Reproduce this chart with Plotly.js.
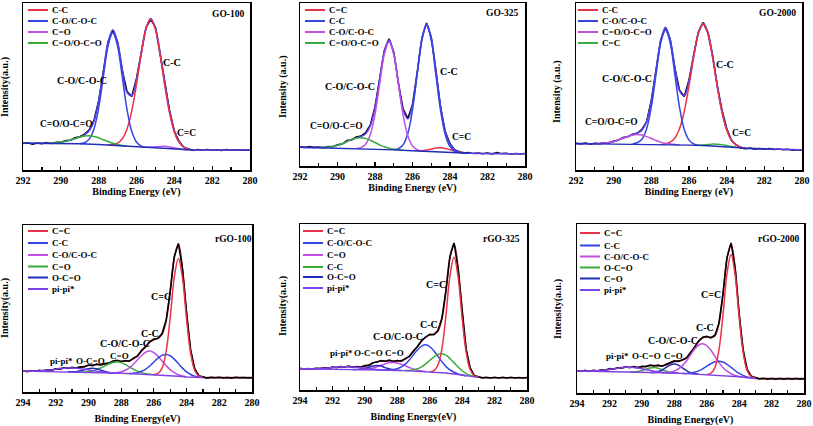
<!DOCTYPE html>
<html>
<head>
<meta charset="utf-8">
<script src="https://cdn.plot.ly/plotly-3.0.1.min.js"></script>
<style>
  html, body { margin: 0; padding: 0; background: #fff; }
  #chart { width: 813px; height: 426px; }
</style>
</head>
<body>
<div id="chart"></div>
<script>
// binding energy grids (eV)
const topE = [292, 291.75, 291.5, 291.25, 291, 290.75, 290.5, 290.25, 290, 289.75, 289.5, 289.25, 289, 288.75, 288.5, 288.25,
  288, 287.75, 287.5, 287.25, 287, 286.75, 286.5, 286.25, 286, 285.75, 285.5, 285.25, 285, 284.75, 284.5, 284.25,
  284, 283.75, 283.5, 283.25, 283, 282.75, 282.5, 282.25, 282, 281.75, 281.5, 281.25, 281, 280.75, 280.5, 280.25, 280];
const botE = [294, 293.75, 293.5, 293.25, 293, 292.75, 292.5, 292.25].concat(topE);

// GO-100
const go100Data = [.158, .163, .155, .162, .157, .164, .159, .166, .165, .176, .178, .193, .199, .214, .240, .297, .415, .590, .770, .835,
  .768, .598, .470, .440, .548, .700, .852, .900, .855, .695, .520, .355, .232, .173, .135, .126, .117, .122, .118, .123,
  .119, .121, .117, .122, .119, .121, .118, .120, .119];
const go100Fit = [.160, .160, .160, .160, .160, .160, .160, .163, .167, .172, .180, .188, .197, .210, .235, .292, .412, .591, .766, .840,
  .763, .600, .465, .445, .543, .702, .847, .907, .850, .700, .517, .352, .237, .170, .138, .125, .120, .120, .120, .120,
  .120, .120, .120, .120, .120, .120, .120, .120, .120];
const go100CC = [.150, .153, .161, .187, .246, .354, .513, .695, .845, .902, .841, .687, .502, .339, .228, .165, .136, .125, .120];
const go100CO = [.157, .163, .185, .245, .372, .561, .745, .823, .741, .554, .361, .231, .168, .143, .134];
const go100CdO = [.136, .136, .137, .139, .141, .142, .138, .133, .127, .123, .120];
const go100OCO = [.160, .160, .163, .167, .172, .180, .188, .197, .203, .205, .201, .193, .181, .171, .160, .153, .147, .142];
const go100BgE = [292, 290, 289, 288, 287, 286, 285, 284, 283.5, 283];
const go100Bg = [.160, .160, .157, .153, .146, .138, .130, .124, .121, .120];
const go100Names = ['C-C', 'C-O/C-O-C', 'C=O', 'C=O/O-C=O'];

// GO-325
const go325Data = [.118, .113, .119, .115, .117, .112, .120, .118, .131, .135, .156, .160, .178, .184, .205, .252, .363, .540, .710, .780,
  .700, .505, .350, .292, .378, .575, .785, .878, .790, .585, .360, .210, .138, .098, .089, .079, .082, .076, .080, .075,
  .079, .074, .083, .076, .078, .073, .077, .074, .076];
const go325Fit = [.115, .114, .114, .113, .114, .114, .115, .120, .127, .137, .150, .162, .172, .181, .198, .248, .359, .532, .703, .772,
  .690, .511, .345, .289, .374, .569, .777, .871, .786, .579, .363, .212, .134, .100, .086, .081, .078, .078, .077, .077,
  .076, .076, .076, .075, .075, .075, .075, .075, .075];
const go325CdC = [.093, .094, .098, .104, .110, .112, .108, .100, .091, .084, .080];
const go325CC = [.101, .107, .130, .199, .345, .562, .773, .863, .771, .557, .338, .190, .119, .092, .083];
const go325CO = [.108, .113, .134, .194, .318, .504, .686, .763, .684, .500, .311, .185, .123, .100, .091];
const go325OCO = [.114, .114, .115, .120, .127, .137, .150, .162, .171, .174, .169, .158, .144, .130, .118, .109, .103, .100, .096];
const go325BgE = [292, 290, 288, 287, 286, 285, 284, 283.5, 283];
const go325Bg = [.115, .110, .103, .099, .094, .089, .085, .081, .078];
const go325Names = ['C=C', 'C-C', 'C-O/C-O-C', 'C=O/O-C=O'];

// GO-2000
const go2000Data = [.160, .156, .161, .155, .160, .157, .163, .162, .174, .178, .195, .199, .214, .220, .243, .290, .418, .600, .780, .850,
  .785, .610, .478, .440, .540, .690, .826, .884, .822, .690, .505, .360, .250, .178, .150, .132, .127, .131, .125, .129,
  .124, .128, .123, .126, .121, .124, .119, .122, .119];
const go2000Fit = [.158, .158, .158, .157, .158, .159, .161, .164, .170, .180, .190, .201, .211, .221, .239, .293, .413, .596, .776, .854,
  .780, .613, .474, .445, .535, .686, .822, .880, .826, .685, .510, .355, .246, .182, .152, .136, .130, .129, .128, .128,
  .127, .126, .125, .125, .124, .123, .122, .121, .120];
const go2000CC = [.153, .156, .167, .192, .249, .352, .505, .678, .821, .876, .819, .674, .498, .344, .239, .178, .150, .136, .130];
const go2000CO = [.156, .163, .184, .247, .378, .572, .762, .842, .761, .570, .374, .242, .179, .156, .148];
const go2000OCO = [.158, .159, .161, .164, .170, .180, .190, .201, .210, .213, .209, .200, .189, .177, .167, .160, .156, .153, .151];
const go2000CdC = [.149, .150, .152, .155, .154, .152, .147, .141, .137];
const go2000BgE = [292, 290, 288, 287, 286, 285, 284, 283.5, 283, 281.5];
const go2000Bg = [.158, .156, .154, .152, .149, .145, .140, .135, .130, .125];
const go2000Names = ['C-C', 'C-O/C-O-C', 'C=O/O-C=O', 'C=C'];

// rGO-100
const rgo100Data = [.128, .122, .127, .124, .130, .126, .133, .130, .139, .137, .145, .141, .148, .143, .151, .150, .162, .158, .167, .162,
  .170, .172, .186, .190, .182, .188, .184, .203, .215, .250, .270, .302, .318, .320, .350, .430, .605, .810, .890, .735,
  .475, .252, .140, .096, .091, .083, .088, .085, .089, .084, .087, .083, .088, .085, .087, .084, .086];
const rgo100Fit = [.125, .125, .125, .126, .126, .128, .131, .133, .137, .140, .142, .144, .145, .145, .148, .153, .159, .162, .164, .164,
  .167, .174, .181, .185, .185, .184, .187, .199, .218, .245, .273, .298, .313, .323, .346, .426, .599, .807, .884, .738,
  .470, .248, .137, .099, .088, .086, .086, .086, .086, .086, .086, .086, .086, .086, .086, .086, .086];
const rgo100CdC = [.105, .111, .143, .243, .446, .688, .799, .683, .437, .231, .129, .095, .087];
const rgo100CC = [.111, .113, .116, .124, .137, .156, .180, .203, .219, .225, .217, .197, .170, .143, .121, .105, .095, .091, .087];
const rgo100CO = [.115, .117, .121, .130, .145, .167, .193, .219, .238, .245, .236, .215, .186, .158, .134, .116, .103, .096, .092];
const rgo100CdO = [.119, .120, .122, .126, .134, .144, .156, .168, .177, .181, .176, .165, .151, .137, .125, .116, .110, .107, .104];
const rgo100OCO = [.121, .121, .122, .127, .133, .140, .142, .139, .131, .123, .117, .114, .113];
const rgo100Pi = [.125, .125, .125, .126, .126, .128, .131, .133, .137, .140, .142, .144, .144, .142, .140, .136, .133, .128, .125, .121,
  .118, .116, .114, .113, .112];
const rgo100BgE = [294, 292, 290, 288, 287, 286, 285, 284.5, 284, 283.5, 283];
const rgo100Bg = [.125, .122, .118, .112, .108, .104, .099, .094, .090, .087, .086];
const rgo100Names = ['C=C', 'C-C', 'C-O/C-O-C', 'C=O', 'O-C=O', 'pi-pi*'];

// rGO-325
const rgo325Data = [.131, .126, .130, .125, .131, .128, .134, .130, .139, .134, .142, .138, .144, .137, .141, .137, .147, .148, .165, .168,
  .178, .172, .180, .172, .178, .174, .190, .203, .236, .262, .298, .318, .336, .333, .358, .432, .600, .805, .886, .730,
  .468, .246, .133, .087, .080, .073, .077, .072, .076, .073, .077, .072, .076, .073, .075, .072, .075];
const rgo325Fit = [.128, .128, .128, .128, .129, .130, .131, .133, .136, .137, .139, .140, .140, .139, .138, .139, .144, .150, .162, .170,
  .175, .175, .175, .175, .175, .177, .186, .205, .232, .264, .295, .320, .332, .336, .354, .428, .596, .802, .880, .734,
  .464, .243, .130, .089, .078, .075, .074, .074, .074, .074, .074, .074, .074, .074, .074, .074, .074];
const rgo325CdC = [.110, .115, .148, .247, .448, .689, .800, .682, .434, .227, .122, .086, .077];
const rgo325CO = [.120, .121, .123, .129, .139, .156, .182, .212, .243, .264, .272, .262, .237, .204, .171, .142, .121, .107, .097, .090, .085];
const rgo325CdO = [.123, .125, .127, .133, .140, .149, .157, .164, .166, .163, .155, .145, .135, .126, .119, .114, .111];
const rgo325CC = [.117, .118, .122, .128, .139, .157, .178, .198, .214, .218, .210, .190, .165, .139, .116, .099, .088, .081, .077];
const rgo325OCO = [.123, .124, .126, .131, .137, .145, .147, .144, .135, .128, .122, .119, .117];
const rgo325Pi = [.128, .128, .128, .128, .129, .130, .131, .133, .136, .137, .139, .140, .140, .139, .137, .134, .132, .128, .126, .123,
  .122, .120, .119, .118, .118];
const rgo325BgE = [294, 292, 290, 288, 287, 286, 285, 284.5, 284, 283.5, 283];
const rgo325Bg = [.128, .126, .122, .118, .114, .109, .102, .096, .088, .080, .076];
const rgo325Names = ['C=C', 'C-O/C-O-C', 'C=O', 'C-C', 'O-C=O', 'pi-pi*'];

// rGO-2000
const rgo2000Data = [.133, .128, .134, .128, .135, .131, .138, .134, .145, .141, .150, .147, .155, .150, .156, .150, .158, .155, .166, .160,
  .165, .158, .170, .178, .190, .187, .198, .206, .240, .270, .308, .330, .336, .326, .342, .412, .585, .800, .888, .742,
  .468, .255, .140, .100, .092, .083, .087, .081, .086, .082, .086, .081, .085, .082, .085, .081, .084];
const rgo2000Fit = [.130, .130, .130, .130, .131, .132, .134, .136, .140, .143, .147, .150, .152, .152, .152, .152, .154, .158, .162, .162,
  .160, .161, .166, .176, .186, .190, .196, .209, .236, .272, .305, .326, .332, .329, .338, .409, .582, .797, .882, .740,
  .471, .251, .137, .099, .088, .085, .085, .085, .085, .085, .085, .085, .085, .085, .085, .085, .085];
const rgo2000CdC = [.109, .116, .149, .252, .458, .706, .820, .701, .449, .239, .132, .097, .087];
const rgo2000CC = [.117, .116, .118, .123, .131, .143, .158, .173, .185, .188, .183, .170, .152, .133, .116, .104, .095, .090, .087];
const rgo2000CO = [.120, .121, .123, .130, .142, .162, .189, .224, .259, .284, .292, .281, .254, .218, .181, .151, .129, .114, .104, .098, .094];
const rgo2000OCO = [.124, .125, .127, .133, .141, .148, .151, .147, .138, .129, .122, .119, .117];
const rgo2000CdO = [.122, .122, .127, .137, .152, .166, .172, .165, .149, .132, .120, .114, .112];
const rgo2000Pi = [.130, .130, .130, .130, .131, .132, .134, .136, .140, .143, .147, .150, .152, .152, .151, .148, .144, .139, .134, .129,
  .126, .123, .121, .119, .119, .117];
const rgo2000BgE = [294, 292, 290, 288, 287, 286, 285, 284.5, 284, 283.5, 283];
const rgo2000Bg = [.130, .127, .123, .118, .113, .108, .105, .102, .096, .090, .086];
const rgo2000Names = ['C=C', 'C-C', 'C-O/C-O-C', 'O-C=O', 'C=O', 'pi-pi*'];

const W = 813, H = 426;
const FONT = 'Liberation Serif, Times New Roman, serif';
const RED = '#e8334a', BLUE = '#3446e2', MAG = '#c04fe2', GREEN = '#3aab3a', NAVY = '#1f2db8', PURPLE = '#8040e8';
const ENV = '#5a3ee8', RENV = '#9a1d32';

const px = x => x / W;
const py = y => 1 - y / H;
function span(grid, from, ys) {
  const i = grid.indexOf(from);
  return grid.slice(i, i + ys.length);
}

const panels = [
  { grid: topE, data: go100Data, fit: go100Fit, fitColor: ENV, fitOnTop: true,
    comps: [[287.5, go100CC, RED], [289, go100CO, BLUE], [285.75, go100CdO, MAG], [290.75, go100OCO, GREEN]],
    bgE: go100BgE, bg: go100Bg, bgColor: NAVY,
    names: go100Names, colors: [RED, BLUE, MAG, GREEN],
    frame: [23, 3, 250, 170], legX: 28, rows: [10, 21, 32, 43],
    tag: 'GO-100', tagPos: [228, 14], yTitle: 'Intensity(a.u.)', yTitlePos: [5, 87],
    xTitle: 'Binding Energy (eV)', range: [292, 280], standoff: 3,
    labels: [['C-O/C-O-C', 288.9, .536, 10], ['C-C', 284.1, .643, 10], ['C=O/O-C=O', 289.7, .274, 9.5], ['C=C', 283.35, .22, 9.5]] },
  { grid: topE, data: go325Data, fit: go325Fit, fitColor: ENV, fitOnTop: true,
    comps: [[285.75, go325CdC, RED], [287, go325CC, BLUE], [289, go325CO, MAG], [291, go325OCO, GREEN]],
    bgE: go325BgE, bg: go325Bg, bgColor: NAVY,
    names: go325Names, colors: [RED, BLUE, MAG, GREEN],
    frame: [300, 3, 525, 166], legX: 305, rows: [10, 21, 32, 43],
    tag: 'GO-325', tagPos: [502, 13], yTitle: 'Intensity (a.u.)', yTitlePos: [283, 87],
    xTitle: 'Binding Energy (eV)', range: [292, 280], standoff: 3,
    labels: [['C-O/C-O-C', 289.33, .49, 10], ['C-C', 284.05, .58, 10], ['C=O/O-C=O', 290.07, .247, 9.5], ['C=C', 283.39, .18, 9.5]] },
  { grid: topE, data: go2000Data, fit: go2000Fit, fitColor: ENV, fitOnTop: true,
    comps: [[287.5, go2000CC, RED], [289, go2000CO, BLUE], [291, go2000OCO, MAG], [285.5, go2000CdC, GREEN]],
    bgE: go2000BgE, bg: go2000Bg, bgColor: NAVY,
    names: go2000Names, colors: [RED, BLUE, MAG, GREEN],
    frame: [576, 3, 802, 170], legX: 578, rows: [10, 21, 32, 43],
    tag: 'GO-2000', tagPos: [777, 13], yTitle: 'Intensity (a.u.)', yTitlePos: [557, 92],
    xTitle: 'Binding Energy (eV)', range: [292, 280], standoff: 3,
    labels: [['C-O/C-O-C', 289.3, .55, 10], ['C-C', 284.1, .63, 10], ['C=O/O-C=O', 290.1, .287, 9.5], ['C=C', 283.21, .222, 9.5]] },
  { grid: botE, data: rgo100Data, fit: rgo100Fit, fitColor: RENV, fitOnTop: false,
    comps: [[290.5, rgo100CdO, GREEN], [291.25, rgo100OCO, NAVY], [294, rgo100Pi, PURPLE], [288.5, rgo100CO, MAG],
      [287.5, rgo100CC, BLUE], [286, rgo100CdC, RED]],
    bgE: rgo100BgE, bg: rgo100Bg, bgColor: PURPLE,
    names: rgo100Names, colors: [RED, BLUE, MAG, GREEN, NAVY, PURPLE],
    frame: [23, 225, 252, 392], legX: 28, rows: [231, 243, 255, 266.5, 277.5, 289],
    tag: 'rGO-100', tagPos: [233, 239], yTitle: 'Intensity(a.u.)', yTitlePos: [5, 308],
    xTitle: 'Binding Energy(eV)', range: [294, 280], standoff: 8,
    labels: [['C=C', 285.56, .57, 10], ['C-C', 286.26, .35, 10], ['C-O/C-O-C', 287.76, .29, 10], ['C=O', 288.11, .216, 9],
      ['pi-pi*', 291.62, .186, 9], ['O-C=O', 289.88, .186, 9]] },
  { grid: botE, data: rgo325Data, fit: rgo325Fit, fitColor: RENV, fitOnTop: false,
    comps: [[290.25, rgo325CdO, MAG], [290.75, rgo325OCO, NAVY], [294, rgo325Pi, PURPLE], [288.75, rgo325CO, BLUE],
      [287.5, rgo325CC, GREEN], [286, rgo325CdC, RED]],
    bgE: rgo325BgE, bg: rgo325Bg, bgColor: PURPLE,
    names: rgo325Names, colors: [RED, BLUE, MAG, GREEN, NAVY, PURPLE],
    frame: [300, 224, 527, 390], legX: 303, rows: [231, 243, 255, 267, 277, 288],
    tag: 'rGO-325', tagPos: [502, 239], yTitle: 'Intensity(a.u.)', yTitlePos: [283, 306],
    xTitle: 'Binding Energy(eV)', range: [294, 280], standoff: 8,
    labels: [['C=C', 285.6, .634, 10], ['C-C', 286.05, .392, 10], ['C-O/C-O-C', 287.97, .322, 10], ['C=O', 288.17, .225, 9],
      ['pi-pi*', 291.45, .221, 9], ['O-C=O', 289.76, .221, 9]] },
  { grid: botE, data: rgo2000Data, fit: rgo2000Fit, fitColor: RENV, fitOnTop: false,
    comps: [[290.75, rgo2000OCO, GREEN], [289.5, rgo2000CdO, NAVY], [294, rgo2000Pi, PURPLE], [288.75, rgo2000CO, MAG],
      [287.5, rgo2000CC, BLUE], [286, rgo2000CdC, RED]],
    bgE: rgo2000BgE, bg: rgo2000Bg, bgColor: PURPLE,
    names: rgo2000Names, colors: [RED, BLUE, MAG, GREEN, NAVY, PURPLE],
    frame: [577, 224, 804, 393], legX: 580, rows: [233, 245.5, 256.5, 267.5, 278.5, 290],
    tag: 'rGO-2000', tagPos: [778, 239], yTitle: 'Intensity(a.u.)', yTitlePos: [558, 309],
    xTitle: 'Binding Energy(eV)', range: [294, 280], standoff: 8,
    labels: [['C=C', 285.71, .582, 10], ['C-C', 286.08, .385, 10], ['C-O/C-O-C', 288.08, .31, 10], ['C=O', 288.02, .217, 9],
      ['O-C=O', 289.72, .217, 9], ['pi-pi*', 291.5, .217, 9]] }
];

const bold = (size) => ({ family: FONT, size: size, color: '#000', weight: 'bold' });
const traces = [];
const annotations = [];
const shapes = [];
const layout = {
  width: W, height: H, margin: { l: 0, r: 0, t: 0, b: 0 },
  paper_bgcolor: '#fff', plot_bgcolor: '#fff', showlegend: false
};

panels.forEach((p, k) => {
  const sfx = k ? String(k + 1) : '';
  const xa = 'x' + sfx, ya = 'y' + sfx;
  const base = { xaxis: xa, yaxis: ya, mode: 'lines', hoverinfo: 'skip', showlegend: false };
  const dataTrace = Object.assign({ x: p.grid, y: p.data, line: { color: '#000', width: 1.5 } }, base);
  const fitTrace = Object.assign({ x: p.grid, y: p.fit, line: { color: p.fitColor, width: 1.6, shape: 'spline' } }, base);
  if (p.fitOnTop) traces.push(dataTrace, fitTrace); else traces.push(fitTrace, dataTrace);
  p.comps.forEach(([from, ys, c]) => {
    traces.push(Object.assign({ x: span(p.grid, from, ys), y: ys, line: { color: c, width: 1.5, shape: 'spline' } }, base));
  });
  traces.push(Object.assign({ x: p.bgE, y: p.bg, line: { color: p.bgColor, width: 1.4 } }, base));

  const [l, t, r, b] = p.frame;
  layout['xaxis' + sfx] = {
    domain: [px(l), px(r)], range: p.range, anchor: ya,
    showline: true, mirror: true, linecolor: '#000', linewidth: 1.5,
    ticks: 'inside', ticklen: 4, tickwidth: 1.2, tickcolor: '#000', dtick: 2, tick0: 280,
    minor: { ticks: 'inside', ticklen: 3, tickwidth: 1.2, tickcolor: '#000', dtick: 1 },
    showgrid: false, zeroline: false, tickfont: bold(10),
    title: { text: p.xTitle, font: bold(10), standoff: p.standoff }
  };
  layout['yaxis' + sfx] = {
    domain: [py(b), py(t)], range: [0, 1], anchor: xa,
    showline: true, mirror: true, linecolor: '#000', linewidth: 1.5,
    ticks: '', showticklabels: false, showgrid: false, zeroline: false
  };

  annotations.push({ xref: 'paper', yref: 'paper', x: px(p.yTitlePos[0]), y: py(p.yTitlePos[1]),
    text: p.yTitle, textangle: -90, showarrow: false, font: bold(10), xanchor: 'center', yanchor: 'middle' });
  annotations.push({ xref: 'paper', yref: 'paper', x: px(p.tagPos[0]), y: py(p.tagPos[1]),
    text: p.tag, showarrow: false, font: bold(9.5), xanchor: 'center', yanchor: 'middle' });
  p.labels.forEach(([txt, e, v, size]) => {
    annotations.push({ xref: xa, yref: ya, x: e, y: v, text: txt, showarrow: false,
      font: bold(size), xanchor: 'center', yanchor: 'middle' });
  });
  p.names.forEach((name, i) => {
    const y = py(p.rows[i]);
    shapes.push({ type: 'line', xref: 'paper', yref: 'paper', x0: px(p.legX), x1: px(p.legX + 20), y0: y, y1: y,
      line: { color: p.colors[i], width: 2 } });
    annotations.push({ xref: 'paper', yref: 'paper', x: px(p.legX + 22), y: y, text: name, showarrow: false,
      font: bold(9), xanchor: 'left', yanchor: 'middle' });
  });
});

layout.annotations = annotations;
layout.shapes = shapes;

Plotly.newPlot('chart', traces, layout, { staticPlot: true });
</script>
</body>
</html>
